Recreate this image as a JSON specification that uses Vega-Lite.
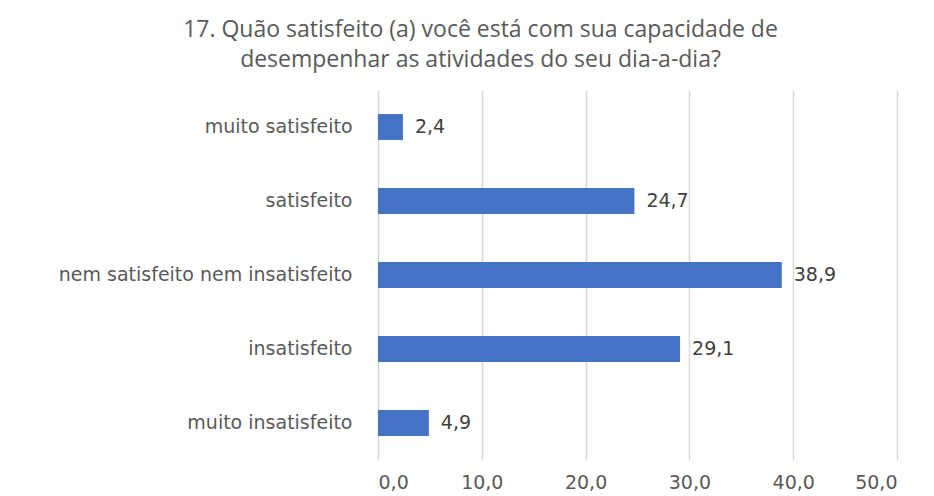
{
  "$schema": "https://vega.github.io/schema/vega-lite/v6.json",
  "width": 519,
  "height": 370,
  "autosize": {"type": "none"},
  "padding": {"left": 378, "top": 90, "right": 37, "bottom": 36},
  "background": "white",
  "title": {
    "text": ["17. Quão satisfeito (a) você está com sua capacidade de", "desempenhar as atividades do seu dia-a-dia?"],
    "anchor": "middle",
    "dx": -157,
    "offset": 18,
    "font": "Open Sans",
    "fontSize": 23,
    "fontWeight": "normal",
    "color": "#595959",
    "lineHeight": 30
  },
  "data": {
    "values": [
      {"cat": "muito satisfeito", "val": 2.4},
      {"cat": "satisfeito", "val": 24.7},
      {"cat": "nem satisfeito nem insatisfeito", "val": 38.9},
      {"cat": "insatisfeito", "val": 29.1},
      {"cat": "muito insatisfeito", "val": 4.9}
    ]
  },
  "encoding": {
    "y": {
      "field": "cat",
      "type": "nominal",
      "sort": null,
      "title": null,
      "scale": {"paddingInner": 0.65, "paddingOuter": 0.325},
      "axis": {
        "domain": false,
        "ticks": false,
        "labelPadding": 26,
        "labelLimit": 400,
        "labelFont": "DejaVu Sans",
        "labelFontSize": 19,
        "labelColor": "#595959",
        "grid": false
      }
    },
    "x": {
      "field": "val",
      "type": "quantitative",
      "title": null,
      "scale": {"domain": [0, 50]},
      "axis": {
        "values": [0, 10, 20, 30, 40, 50],
        "format": ".1f",
        "domain": false,
        "ticks": false,
        "labelPadding": 13,
        "labelFont": "DejaVu Sans",
        "labelFontSize": 19,
        "labelColor": "#595959",
        "grid": true,
        "gridColor": "#d9d9d9",
        "gridWidth": 1.5
      }
    }
  },
  "layer": [
    {"mark": {"type": "bar", "color": "#4472C4"}},
    {
      "mark": {"type": "text", "align": "left", "dx": 12, "font": "DejaVu Sans", "fontSize": 19, "color": "#404040"},
      "encoding": {"text": {"field": "val", "type": "quantitative", "format": ".1f"}}
    }
  ],
  "config": {
    "view": {"stroke": null},
    "locale": {
      "number": {"decimal": ",", "thousands": ".", "grouping": [3], "currency": ["", ""]}
    }
  }
}
